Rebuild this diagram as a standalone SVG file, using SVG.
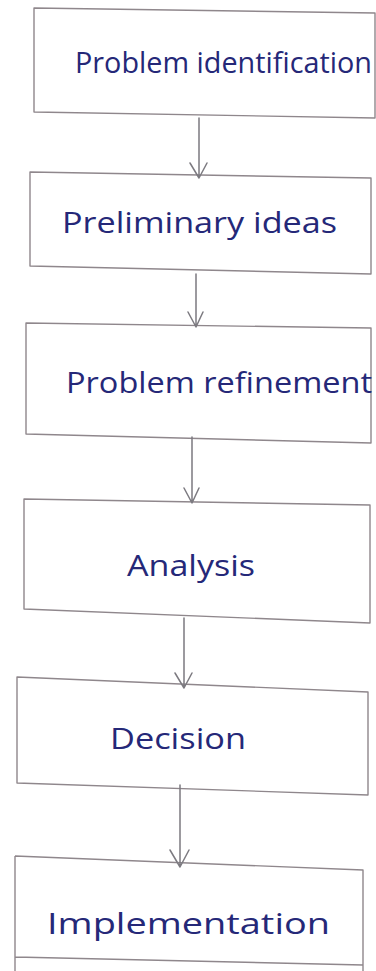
<svg xmlns="http://www.w3.org/2000/svg" width="376" height="971" viewBox="0 0 376 971">
  <style>
    .box { fill: none; stroke: #8f878c; stroke-width: 1.4; stroke-linejoin: round; }
    .lbl { font-family: "Open Sans", "DejaVu Sans", sans-serif; font-size: 29px; fill: #252878; }
    .wire { fill: none; stroke: #7c7a80; stroke-width: 1.5; stroke-linecap: round; stroke-linejoin: round; }
  </style>
  <rect width="376" height="971" fill="#ffffff"/>

  <g id="node-identification">
    <path class="box" d="M34,8 L375,13 L375,118 L34,112 Z"/>
    <text class="lbl" x="75" y="73" textLength="297" lengthAdjust="spacingAndGlyphs">Problem identification</text>
  </g>

  <g id="node-preliminary">
    <path class="box" d="M30,172 L371,178 L371,274 L30,266 Z"/>
    <text class="lbl" x="62" y="233" textLength="275" lengthAdjust="spacingAndGlyphs">Preliminary ideas</text>
  </g>

  <g id="node-refinement">
    <path class="box" d="M26,323 L371,328 L371,443 L26,434 Z"/>
    <text class="lbl" x="66" y="393" textLength="306" lengthAdjust="spacingAndGlyphs">Problem refinement</text>
  </g>

  <g id="node-analysis">
    <path class="box" d="M24,499 L370,505 L370,623 L24,609 Z"/>
    <text class="lbl" x="127" y="576" textLength="128" lengthAdjust="spacingAndGlyphs">Analysis</text>
  </g>

  <g id="node-decision">
    <path class="box" d="M17,677 L368,692 L368,795 L17,783 Z"/>
    <text class="lbl" x="110" y="749" textLength="136" lengthAdjust="spacingAndGlyphs">Decision</text>
  </g>

  <g id="node-implementation">
    <path class="box" d="M15,856 L363,870 L363,971 M15,971 L15,856 M15,957 L363,965"/>
    <text class="lbl" x="47" y="934" textLength="283" lengthAdjust="spacingAndGlyphs">Implementation</text>
  </g>

  <g id="connectors">
    <path class="wire" d="M199,118 L199,178 M190,163 L199,178 L207,163"/>
    <path class="wire" d="M196,274 L196,327 M188,312 L196,327 L203,312"/>
    <path class="wire" d="M192,437 L192,503 M184,488 L192,503 L199,488"/>
    <path class="wire" d="M184,618 L184,688 M175,673 L184,688 L192,673"/>
    <path class="wire" d="M180,785 L180,867 M170,850 L180,867 L189,850"/>
  </g>
</svg>
